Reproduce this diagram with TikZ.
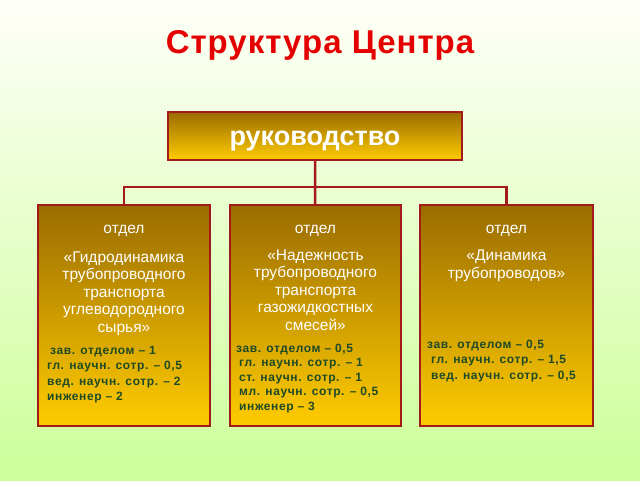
\documentclass[tikz,border=0pt]{standalone}
\usepackage{fontspec}
\setmainfont{Liberation Sans}

\definecolor{bgtop}{HTML}{FFFFF8}
\definecolor{bgbot}{HTML}{CCFF99}
\definecolor{boxtop}{HTML}{9A6C00}
\definecolor{boxbot}{HTML}{FFCC00}
\definecolor{edge}{HTML}{A31A1A}
\definecolor{titlered}{HTML}{E40000}
\definecolor{staff}{HTML}{1E4A28}

\begin{document}
\begin{tikzpicture}[x=1pt,y=-1pt,
    every node/.style={inner sep=0pt},
    unit/.style={draw=edge, line width=2.4pt, top color=boxtop, bottom color=boxbot},
    link/.style={draw=edge, line width=2.4pt},
    dept/.style={white, font=\fontsize{15.5}{17.5}\selectfont, align=center, anchor=base},
    staffline/.style={staff, font=\bfseries\fontsize{12}{15.5}\selectfont\addfontfeature{LetterSpace=5}, align=left, anchor=base west}]
    \shade [top color=bgtop, bottom color=bgbot] (0,0) rectangle (640,480);
    \useasboundingbox (0,0) rectangle (640,480);

    \node [titlered, font=\bfseries\fontsize{33}{33}\selectfont\addfontfeature{LetterSpace=3}, anchor=base] (title) at (320,53) {Структура Центра};

    \node [unit, minimum width=294pt, minimum height=48pt] (head) at (315,136) {};
    \node [white, font=\bfseries\fontsize{27}{27}\selectfont, anchor=base] (headtext) at (315,145) {руководство};

    \node [unit, minimum width=172pt, minimum height=221pt] (left) at (124,315.5) {};
    \node [unit, minimum width=171pt, minimum height=221pt] (mid) at (315.5,315.5) {};
    \node [unit, minimum width=173pt, minimum height=221pt] (right) at (506.5,315.5) {};

    \coordinate (bus) at (315,187);
    \draw [link] (head) -- (mid);
    \draw [link] (bus) -| (left);
    \draw [link] (bus) -| (right);

    \node [dept] (lkind) at (124,233) {отдел};
    \node [dept] (lname) at (124,332) {«Гидродинамика\\трубопроводного\\транспорта\\углеводородного\\сырья»};
    \node [staffline] (lstaff) at (47,400.5) {\hspace*{3pt}зав. отделом – 1\\гл. научн. сотр. – 0,5\\вед. научн. сотр. – 2\\инженер – 2};

    \node [dept] (mkind) at (315.5,233) {отдел};
    \node [dept] (mname) at (315.5,330) {«Надежность\\трубопроводного\\транспорта\\газожидкостных\\смесей»};
    \node [staffline, font=\bfseries\fontsize{12}{14.6}\selectfont\addfontfeature{LetterSpace=5}] (mstaff) at (236,410.4) {зав. отделом – 0,5\\\hspace*{3pt}гл. научн. сотр. – 1\\\hspace*{3pt}ст. научн. сотр. – 1\\\hspace*{3pt}мл. научн. сотр. – 0,5\\\hspace*{3pt}инженер – 3};

    \node [dept] (rkind) at (506.5,233) {отдел};
    \node [dept] (rname) at (506.5,278) {«Динамика\\трубопроводов»};
    \node [staffline] (rstaff) at (427,379) {зав. отделом – 0,5\\\hspace*{4pt}гл. научн. сотр. – 1,5\\\hspace*{4pt}вед. научн. сотр. – 0,5};
\end{tikzpicture}
\end{document}
